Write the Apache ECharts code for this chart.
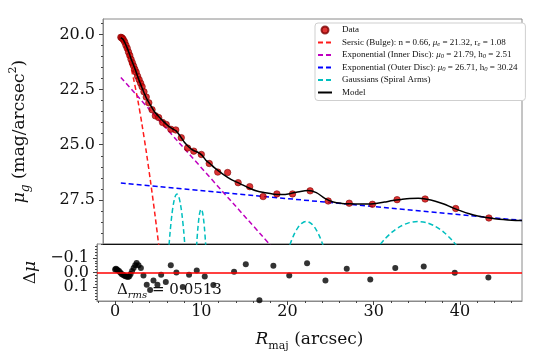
<!DOCTYPE html>
<html>
<head>
<meta charset="utf-8">
<script src="https://cdn.jsdelivr.net/npm/echarts@6/dist/echarts.min.js"></script>
<style>html,body{margin:0;padding:0;background:#fff}#chart{width:538px;height:359px}</style>
</head>
<body>
<div id="chart"></div>
<script>
// measured profile (radius in arcsec, surface brightness in mag/arcsec^2)
var dataR = [0, 0.1, 0.2, 0.3, 0.45, 0.6, 0.75, 0.9, 1.05, 1.2, 1.35, 1.5, 1.65, 1.8, 1.97, 2.15, 2.33, 2.5, 2.72, 2.99, 3.29,
  3.67, 4.06, 4.45, 4.91, 5.34, 5.88, 6.46, 7.11, 7.85, 8.58, 9.47, 10.4, 11.4, 12.56, 13.8, 15.16, 16.74, 18.36, 20.2,
  22.27, 24.4, 26.87, 29.6, 32.5, 35.8, 39.4, 43.3];
var dataMu = [20.13, 20.15, 20.18, 20.24, 20.34, 20.49, 20.63, 20.80, 20.95, 21.13, 21.28, 21.43, 21.58, 21.71, 21.89, 22.05, 22.21, 22.37, 22.60, 22.84, 23.10,
  23.41, 23.69, 23.77, 23.99, 24.08, 24.30, 24.33, 24.68, 25.15, 25.29, 25.44, 25.85, 26.24, 26.26, 26.72, 26.90, 27.35, 27.23, 27.23,
  27.09, 27.55, 27.65, 27.70, 27.49, 27.46, 27.89, 28.32];
var resid = [-0.02, -0.025, -0.02, -0.015, -0.01, 0.0, 0.01, 0.015, 0.02, 0.025, 0.028, 0.03, 0.025, 0.01, -0.01, -0.03, -0.05, -0.065, -0.05, -0.03, 0.02,
  0.084, 0.12, 0.054, 0.084, 0.016, 0.065, -0.05, 0.0, 0.099, 0.016, -0.014, 0.027, 0.086, -0.2, -0.005, -0.057, 0.19, -0.046, 0.02,
  -0.064, 0.054, -0.025, 0.048, -0.03, -0.041, 0.002, 0.034];

// fitted components
var sersicR = [0, 0.25, 0.5, 0.75, 1.0, 1.25, 1.5, 2.0, 2.5, 3.0, 3.5, 4.0, 4.5, 5.0];
var sersicMu = [20.23, 20.35, 20.57, 20.86, 21.20, 21.59, 22.02, 22.99, 24.11, 25.34, 26.69, 28.13, 29.68, 31.31];
var innerR = [0, 20];
var innerMu = [21.95, 30.59];
var outerR = [0, 47.2];
var outerMu = [26.74, 28.43];
var g1R = [5.6, 5.8, 6.0, 6.2, 6.4, 6.6, 6.8, 7.0, 7.2, 7.4, 7.6];
var g1Mu = [29.90, 28.94, 28.19, 27.66, 27.34, 27.23, 27.34, 27.66, 28.19, 28.94, 29.90];
var g2R = [8.85, 8.95, 9.05, 9.15, 9.25, 9.35, 9.45, 9.55, 9.65, 9.75, 9.85, 9.95, 10.05];
var g2Mu = [29.99, 29.36, 28.84, 28.44, 28.15, 27.98, 27.92, 27.98, 28.15, 28.44, 28.84, 29.36, 29.99];
var g3R = [19.33, 19.83, 20.33, 20.83, 21.33, 21.83, 22.33, 22.83, 23.33, 23.83, 24.33];
var g3Mu = [30.23, 29.60, 29.11, 28.76, 28.55, 28.48, 28.55, 28.76, 29.11, 29.60, 30.23];
var g4R = [29.95, 30.95, 31.95, 32.95, 33.95, 34.95, 35.95, 36.95, 37.95, 38.95, 39.95];
var g4Mu = [29.79, 29.32, 28.95, 28.69, 28.53, 28.48, 28.53, 28.69, 28.95, 29.32, 29.79];
var modelR = [0, 0.25, 0.5, 0.75, 1.0, 1.25, 1.5, 1.75, 2.0, 2.5, 3.0, 3.5, 4.0, 4.5, 5.0, 5.5, 6.0, 6.5, 7.0, 7.5,
  8.0, 8.5, 9.0, 9.5, 10, 10.5, 11, 12, 13, 14, 15, 16, 17, 18, 19, 20, 21, 22, 23, 24, 25, 26, 27, 28, 29,
  30, 31, 32, 33, 34, 35, 36, 37, 38, 39, 40, 41, 42, 43, 44, 45, 46, 47.2];
var modelMu = [20.15, 20.22, 20.40, 20.62, 20.88, 21.15, 21.40, 21.65, 21.93, 22.43, 22.88, 23.22, 23.53, 23.74, 23.94, 24.12, 24.26, 24.37, 24.62, 24.90,
  25.10, 25.25, 25.33, 25.46, 25.70, 25.86, 26.04, 26.33, 26.58, 26.76, 26.95, 27.10, 27.18, 27.24, 27.26, 27.21, 27.13, 27.08, 27.17, 27.43, 27.60, 27.66, 27.68, 27.69, 27.69,
  27.66, 27.60, 27.53, 27.48, 27.44, 27.43, 27.47, 27.56, 27.69, 27.85, 28.00, 28.13, 28.23, 28.30, 28.35, 28.39, 28.42, 28.44];

// ticks
var xTicks = [0, 10, 20, 30, 40];
var muTicks = [20, 22.5, 25, 27.5];
var resTicks = [-0.1, 0, 0.1];

var xMinor = [], muMinor = [], resMinor = [];
for (var i = -2; i <= 46; i += 2) xMinor.push(i);
for (var i = 39; i <= 59; i++) muMinor.push(i / 2);
for (var i = -9; i <= 9; i++) resMinor.push(i / 50);

function zip(a, b) {
  return a.map(function (v, k) { return [v, b[k]]; });
}

var serif = 'DejaVu Serif';
var spine = '#8a8a8a';
var tickCol = '#444';

var legendText = {
  'Data': 'Data',
  'Sersic': 'Sersic (Bulge): n = 0.66, {i|μ}{s|e} = 21.32, r{s|e} = 1.08',
  'Inner': 'Exponential (Inner Disc): {i|μ}{s|0} = 21.79, h{s|0} = 2.51',
  'Outer': 'Exponential (Outer Disc): {i|μ}{s|0} = 26.71, h{s|0} = 30.24',
  'Gaussians': 'Gaussians (Spiral Arms)',
  'Model': 'Model'
};

function dashed(name, data, color) {
  return {
    name: name, type: 'line', data: data, symbol: 'none', smooth: 0.3,
    xAxisIndex: 0, yAxisIndex: 0, clip: true, z: 2,
    lineStyle: { color: color, width: 1.5, type: [5, 3] }, itemStyle: { color: color }
  };
}

// legend entry for a line: hide the marker that echarts puts on the line icon
function lineItem(name) {
  return { name: name, itemStyle: { opacity: 0, color: 'rgba(0,0,0,0)', borderWidth: 0 } };
}

function resLabel(v) {
  return v < 0 ? '\u2212' + Math.abs(v).toFixed(1) : v.toFixed(1);
}

// one residual tick label per axis so the tight labels are not dropped as overlapping
function resLabelAxis(v) {
  return { gridIndex: 1, type: 'value', inverse: true, min: -0.195, max: 0.195, position: 'left',
    axisLine: { show: false, onZero: false }, axisTick: { show: false }, splitLine: { show: false },
    axisLabel: { show: true, customValues: [v], margin: 8, fontFamily: serif, fontSize: 16, color: '#111',
      lineHeight: 12, formatter: resLabel } };
}

var chart = echarts.init(document.getElementById('chart'));
var option = {
  animation: false,
  backgroundColor: '#fff',
  grid: [
    { left: 97, top: 19, width: 425, height: 225, show: true, borderColor: spine, borderWidth: 1 },
    { left: 97, top: 244, width: 425, height: 57, show: true, borderColor: spine, borderWidth: 1 }
  ],
  legend: {
    orient: 'vertical', left: 315, top: 23,
    data: [{ name: 'Data', icon: 'circle' }, lineItem('Sersic'), lineItem('Inner'), lineItem('Outer'), lineItem('Gaussians'), lineItem('Model')],
    itemWidth: 14, itemHeight: 7, itemGap: 2.5,
    padding: [2, 8, 3, 2],
    backgroundColor: '#fff', borderColor: '#cfcfcf', borderWidth: 1, borderRadius: 3,
    formatter: function (name) { return legendText[name]; },
    textStyle: {
      fontFamily: 'Liberation Serif', fontSize: 9, color: '#111', lineHeight: 10, padding: [0, 0, 0, 5],
      rich: {
        i: { fontFamily: 'Liberation Serif', fontStyle: 'italic', fontSize: 9 },
        s: { fontFamily: 'Liberation Serif', fontStyle: 'italic', fontSize: 6.5, verticalAlign: 'bottom', lineHeight: 10 }
      }
    }
  },
  graphic: [{
    type: 'text', left: 117, top: 283, z: 100,
    style: {
      text: '{d|Δ}{s|rms}{d| = 0.0513}',
      rich: {
        d: { fontFamily: serif, fontSize: 15, fill: '#111' },
        s: { fontFamily: serif, fontStyle: 'italic', fontSize: 10, fill: '#111', verticalAlign: 'bottom', lineHeight: 20 }
      }
    }
  }],
  xAxis: [
    { gridIndex: 0, type: 'value', min: -2.1, max: 47.2,
      axisLine: { show: true, onZero: false, lineStyle: { color: '#111', width: 1 } },
      axisTick: { show: false }, axisLabel: { show: false }, splitLine: { show: false } },
    { gridIndex: 1, type: 'value', min: -2.1, max: 47.2, position: 'bottom',
      name: '{i|R}{s|maj} (arcsec)', nameLocation: 'middle', nameGap: 27,
      nameTextStyle: { fontFamily: serif, fontSize: 17, color: '#111',
        rich: { i: { fontFamily: serif, fontStyle: 'italic', fontSize: 17 },
                s: { fontFamily: serif, fontSize: 11, verticalAlign: 'bottom', lineHeight: 24 } } },
      axisLine: { show: true, onZero: false, lineStyle: { color: spine } },
      axisTick: { show: true, inside: false, length: 4, customValues: xTicks, lineStyle: { color: tickCol } },
      axisLabel: { show: true, customValues: xTicks, margin: 3, fontFamily: serif, fontSize: 16, color: '#111' },
      splitLine: { show: false } },
    { gridIndex: 1, type: 'value', min: -2.1, max: 47.2, position: 'bottom',
      axisLine: { show: false, onZero: false },
      axisTick: { show: true, inside: false, length: 2, customValues: xMinor, lineStyle: { color: tickCol } },
      axisLabel: { show: false }, splitLine: { show: false } }
  ],
  yAxis: [
    { gridIndex: 0, type: 'value', inverse: true, min: 19.3, max: 29.5, position: 'left',
      name: '{i|μ}{s|g} (mag/arcsec{p|2})', nameLocation: 'middle', nameGap: 71,
      nameTextStyle: { fontFamily: serif, fontSize: 17, color: '#111',
        rich: { i: { fontFamily: serif, fontStyle: 'italic', fontSize: 17 },
                s: { fontFamily: serif, fontStyle: 'italic', fontSize: 12, verticalAlign: 'bottom', lineHeight: 24 },
                p: { fontFamily: serif, fontSize: 11, verticalAlign: 'top', lineHeight: 24 } } },
      axisLine: { show: true, onZero: false, lineStyle: { color: spine } },
      axisTick: { show: true, inside: false, length: 4, customValues: muTicks, lineStyle: { color: tickCol } },
      axisLabel: { show: true, customValues: muTicks, margin: 8, fontFamily: serif, fontSize: 16, color: '#111',
        formatter: function (v) { return v.toFixed(1); } },
      splitLine: { show: false } },
    { gridIndex: 0, type: 'value', inverse: true, min: 19.3, max: 29.5, position: 'left',
      axisLine: { show: false, onZero: false },
      axisTick: { show: true, inside: false, length: 2, customValues: muMinor, lineStyle: { color: tickCol } },
      axisLabel: { show: false }, splitLine: { show: false } },
    { gridIndex: 1, type: 'value', inverse: true, min: -0.195, max: 0.195, position: 'left',
      name: 'Δ{i|μ}', nameLocation: 'middle', nameGap: 58,
      nameTextStyle: { fontFamily: serif, fontSize: 17, color: '#111',
        rich: { i: { fontFamily: serif, fontStyle: 'italic', fontSize: 17 } } },
      axisLine: { show: true, onZero: false, lineStyle: { color: spine } },
      axisTick: { show: true, inside: false, length: 4, customValues: resTicks, lineStyle: { color: tickCol } },
      axisLabel: { show: false },
      splitLine: { show: false } },
    { gridIndex: 1, type: 'value', inverse: true, min: -0.195, max: 0.195, position: 'left',
      axisLine: { show: false, onZero: false },
      axisTick: { show: true, inside: false, length: 2, customValues: resMinor, lineStyle: { color: tickCol } },
      axisLabel: { show: false }, splitLine: { show: false } },
    resLabelAxis(resTicks[0]),
    resLabelAxis(resTicks[1]),
    resLabelAxis(resTicks[2])
  ],
  series: [
    { name: 'Data', type: 'scatter', xAxisIndex: 0, yAxisIndex: 0, data: zip(dataR, dataMu),
      symbolSize: 6.5, z: 3,
      itemStyle: { color: '#d40000', borderColor: '#7a0000', borderWidth: 0.7 } },
    dashed('Sersic', zip(sersicR, sersicMu), '#ff1a1a'),
    dashed('Inner', zip(innerR, innerMu), '#bf00bf'),
    dashed('Outer', zip(outerR, outerMu), '#0000ff'),
    dashed('Gaussians', zip(g1R, g1Mu), '#00bfbf'),
    dashed('Gaussians', zip(g2R, g2Mu), '#00bfbf'),
    dashed('Gaussians', zip(g3R, g3Mu), '#00bfbf'),
    dashed('Gaussians', zip(g4R, g4Mu), '#00bfbf'),
    { name: 'Model', type: 'line', xAxisIndex: 0, yAxisIndex: 0, data: zip(modelR, modelMu),
      symbol: 'none', smooth: 0.3, clip: true, z: 4,
      lineStyle: { color: '#000', width: 1.5 }, itemStyle: { color: '#000' } },
    { name: 'Residuals', type: 'scatter', xAxisIndex: 1, yAxisIndex: 2, data: zip(dataR, resid),
      symbolSize: 6, z: 3, clip: true,
      itemStyle: { color: '#000' },
      markLine: { silent: true, symbol: 'none', label: { show: false },
        lineStyle: { color: '#ff0000', type: 'solid', width: 1.5 },
        data: [{ yAxis: 0 }] } }
  ]
};
chart.setOption(option);
</script>
</body>
</html>
